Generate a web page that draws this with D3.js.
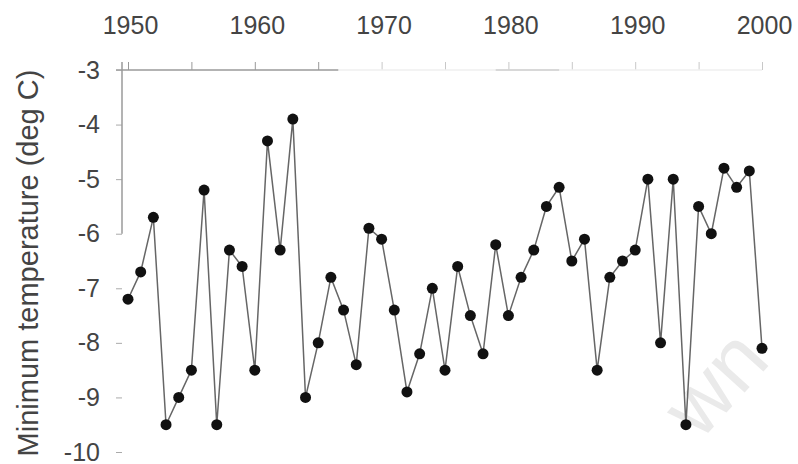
<!DOCTYPE html>
<html>
<head>
<meta charset="utf-8">
<script src="https://cdn.jsdelivr.net/npm/d3@7"></script>
<style>
body{margin:0;background:#fff;}
svg{display:block;font-family:"Liberation Sans",Arial,sans-serif;}
</style>
</head>
<body>
<script>
// yearly minimum temperature
const years = [1950,1951,1952,1953,1954,1955,1956,1957,1958,1959,
               1960,1961,1962,1963,1964,1965,1966,1967,1968,1969,
               1970,1971,1972,1973,1974,1975,1976,1977,1978,1979,
               1980,1981,1982,1983,1984,1985,1986,1987,1988,1989,
               1990,1991,1992,1993,1994,1995,1996,1997,1998,1999,2000];
const minTemp = [-7.2,-6.7,-5.7,-9.5,-9.0,-8.5,-5.2,-9.5,-6.3,-6.6,
                 -8.5,-4.3,-6.3,-3.9,-9.0,-8.0,-6.8,-7.4,-8.4,-5.9,
                 -6.1,-7.4,-8.9,-8.2,-7.0,-8.5,-6.6,-7.5,-8.2,-6.2,
                 -7.5,-6.8,-6.3,-5.5,-5.15,-6.5,-6.1,-8.5,-6.8,-6.5,
                 -6.3,-5.0,-8.0,-5.0,-9.5,-5.5,-6.0,-4.8,-5.15,-4.85,-8.1];
const xTickYears = [1950,1955,1960,1965,1970,1975,1980,1985,1990,1995,2000];
const xLabelYears = [1950,1960,1970,1980,1990,2000];
const yTicks = [-3,-4,-5,-6,-7,-8,-9,-10];
const yTitle = "Minimum temperature (deg C)";

let width = 798, height = 464;
let svg = d3.select("body").append("svg").attr("width",width).attr("height",height);

let x = d3.scaleLinear().domain([1950,2000]).range([128,762]);
let y = d3.scaleLinear().domain([-3,-10]).range([70,452]);
let axisLeftX = x(1950) - 6;   // y axis sits a bit left of the first year

// faint watermark in the corner
svg.append("text").text("wn")
  .attr("transform","translate(736,402) rotate(-48)")
  .attr("text-anchor","middle").attr("font-size",84)
  .attr("fill","#eaeaea");

// top axis (the scan only keeps part of the line)
let gx = svg.append("g").attr("transform",`translate(0,${y(-3)})`)
  .call(d3.axisTop(x).tickValues(xTickYears).tickSize(8).tickPadding(28)
        .tickFormat(d => xLabelYears.includes(d) ? d : ""));
gx.select(".domain").remove();
gx.selectAll(".tick line").attr("stroke",d => d <= 1965 ? "#999" : "#c8c8c8");
gx.selectAll(".tick text").attr("font-size",25).attr("fill","#444").attr("dx",2);
svg.append("line").attr("x1",axisLeftX-6).attr("x2",x(1966.6))
  .attr("y1",y(-3)).attr("y2",y(-3)).attr("stroke","#9a9a9a").attr("stroke-width",1.5);
svg.append("line").attr("x1",x(1966.6)).attr("x2",x(2000))
  .attr("y1",y(-3)).attr("y2",y(-3)).attr("stroke","#efefef").attr("stroke-width",1.5);
svg.append("line").attr("x1",x(1979)).attr("x2",x(1984))
  .attr("y1",y(-3)).attr("y2",y(-3)).attr("stroke","#bdbdbd").attr("stroke-width",1.2);

// left axis
let gy = svg.append("g").attr("transform",`translate(${axisLeftX},0)`)
  .call(d3.axisLeft(y).tickValues(yTicks).tickSize(6).tickPadding(16).tickFormat(d => String(d)));
gy.select(".domain").remove();
gy.selectAll(".tick line").attr("stroke","#aaa");
gy.selectAll(".tick text").attr("font-size",25).attr("fill","#444");
svg.append("line").attr("x1",axisLeftX).attr("x2",axisLeftX)
  .attr("y1",y(-3)-8).attr("y2",y(-6)).attr("stroke","#9a9a9a").attr("stroke-width",1.5);

svg.append("text").text(yTitle)
  .attr("transform",`translate(38,${(y(-3)+y(-10))/2 + 2}) rotate(-90)`)
  .attr("text-anchor","middle").attr("font-size",29).attr("fill","#444");

// series
let pts = years.map((yr,i) => ({yr:yr, v:minTemp[i]}));
svg.append("path").datum(pts)
  .attr("d",d3.line().x(d => x(d.yr)).y(d => y(d.v)))
  .attr("fill","none").attr("stroke","#666").attr("stroke-width",1.5);
svg.selectAll("circle.pt").data(pts).join("circle").attr("class","pt")
  .attr("cx",d => x(d.yr)).attr("cy",d => y(d.v)).attr("r",5.5)
  .attr("fill","#111");
</script>
</body>
</html>
